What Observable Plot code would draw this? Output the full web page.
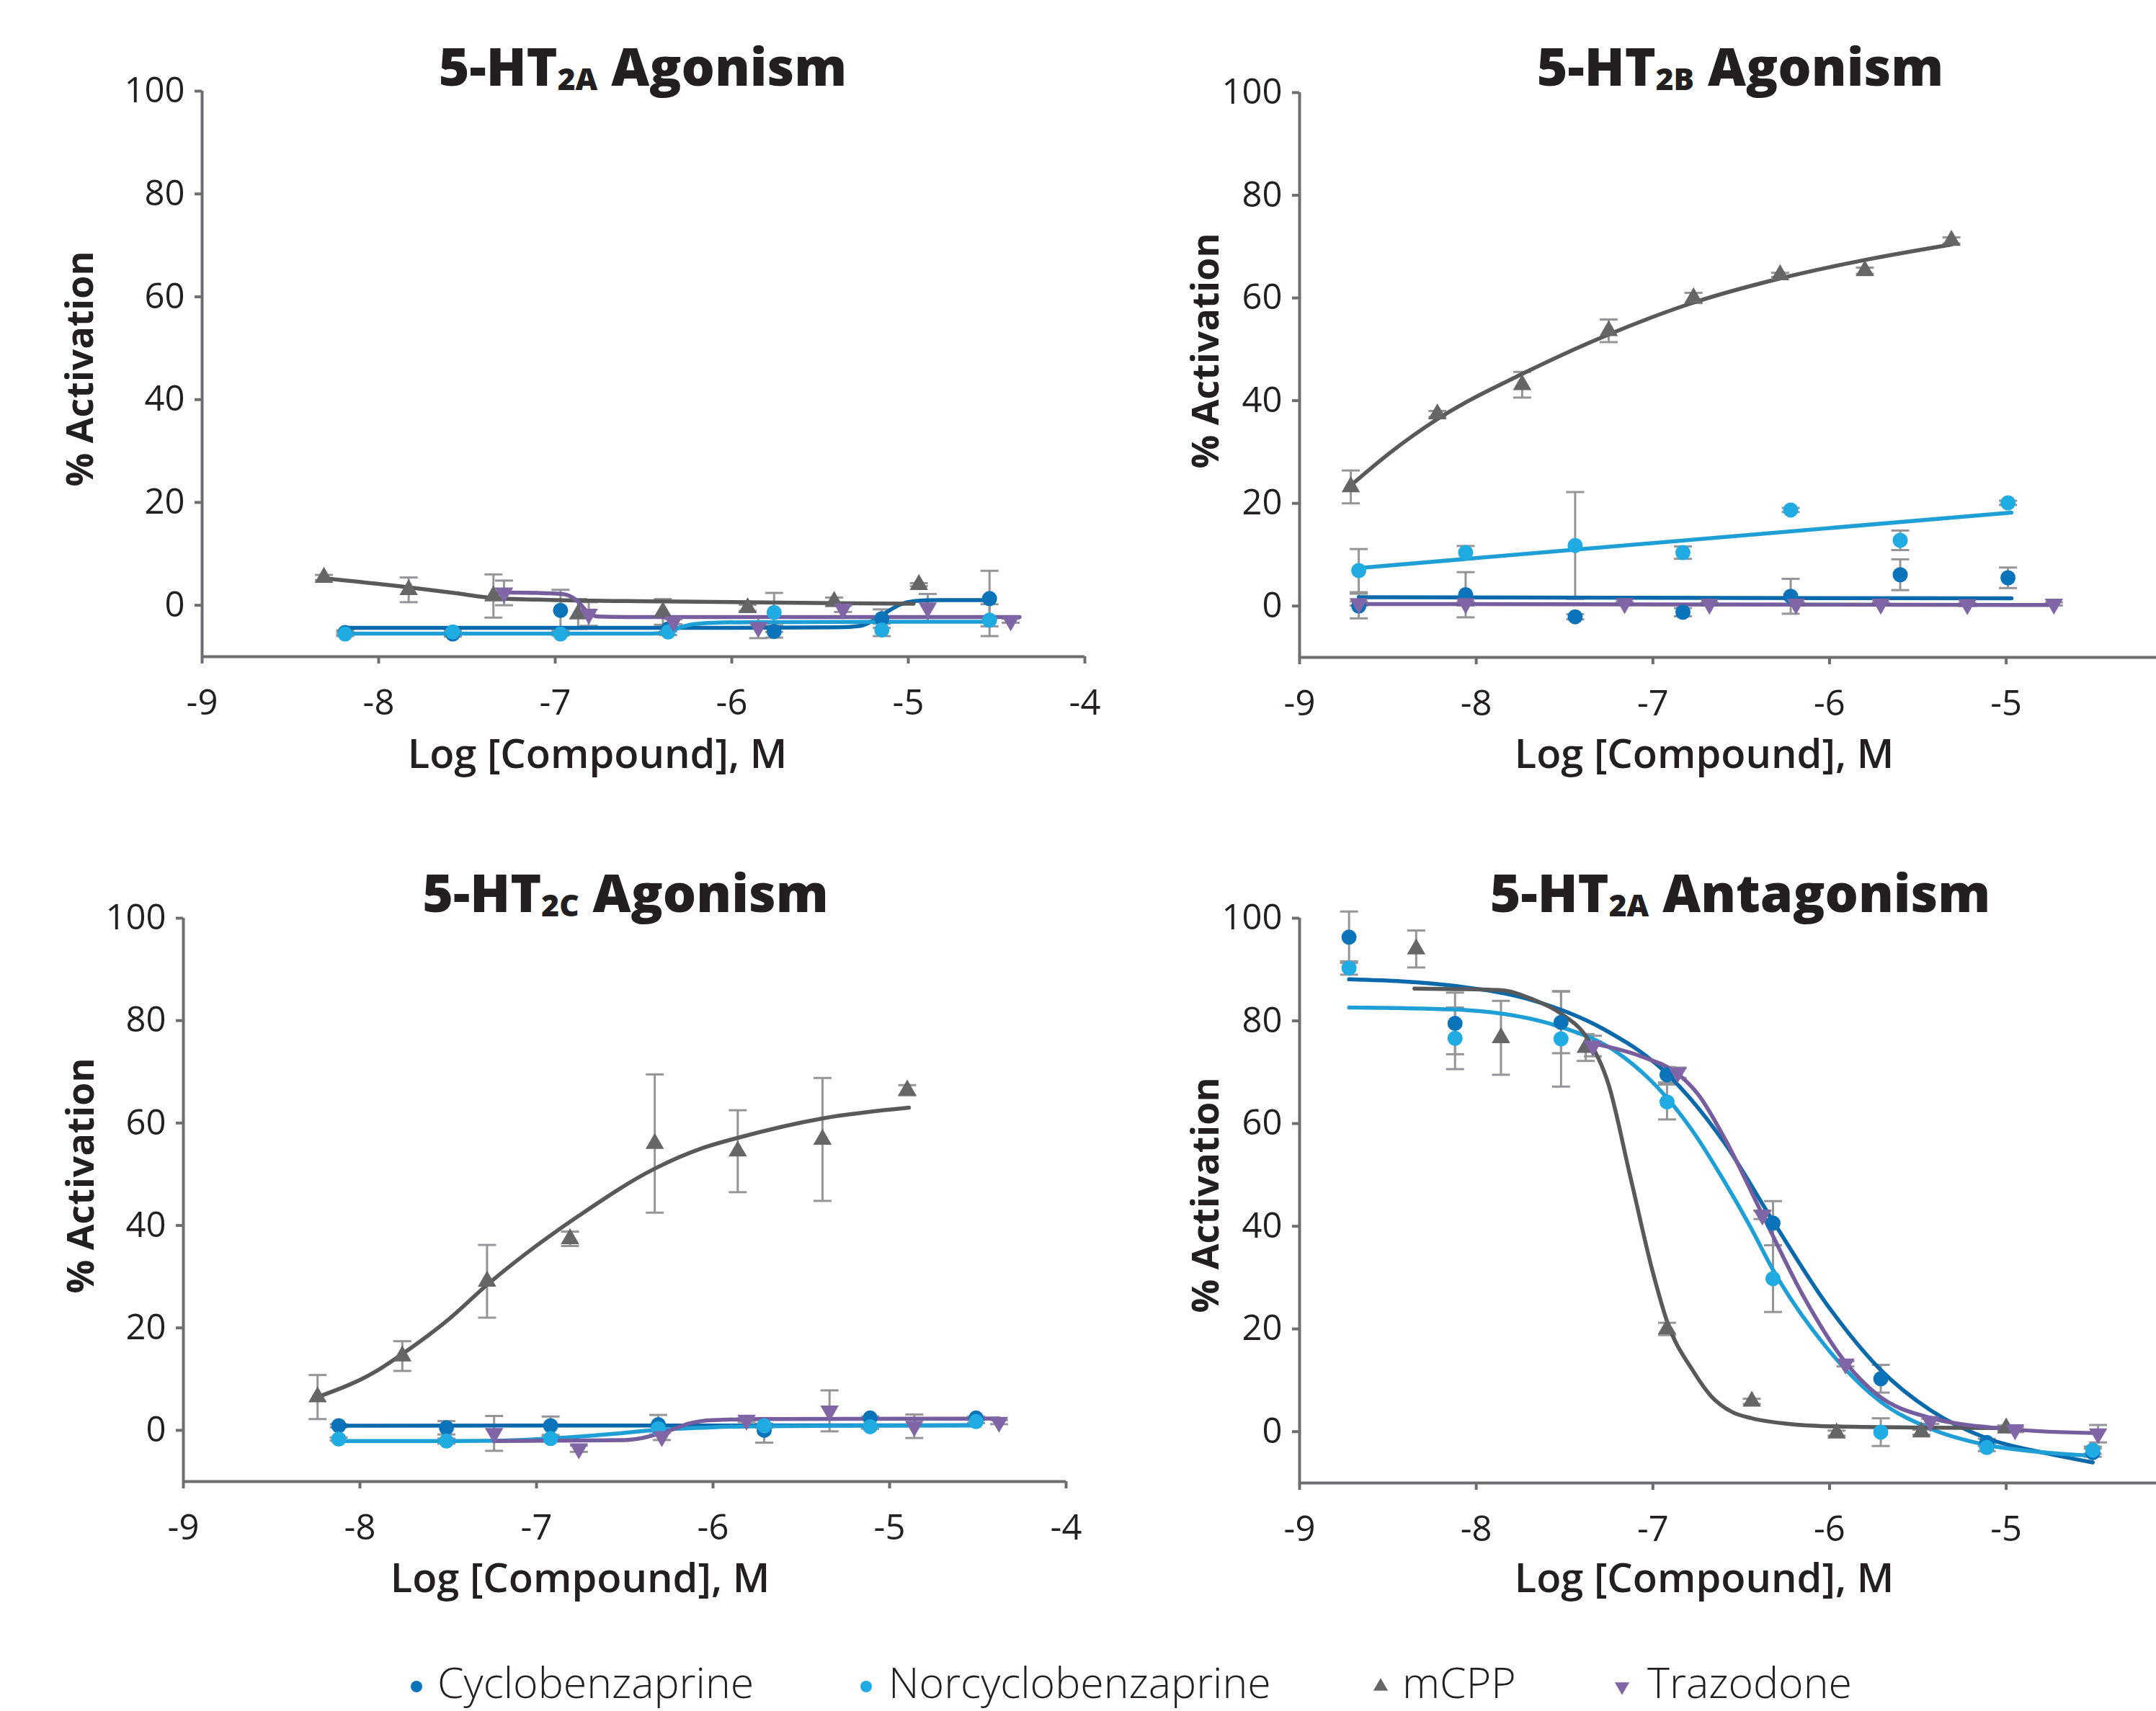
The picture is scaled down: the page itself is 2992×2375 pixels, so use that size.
<!DOCTYPE html>
<html>
<head>
<meta charset="utf-8">
<script src="https://cdn.jsdelivr.net/npm/d3@7"></script>
<script src="https://cdn.jsdelivr.net/npm/@observablehq/plot@0.6"></script>
<style>
  html, body { margin: 0; padding: 0; background: #fff; }
  #root { position: relative; width: 2992px; height: 2375px; overflow: hidden; background: #fff;
          font-family: "Open Sans", "Noto Sans", sans-serif; color: #231f20; }
  .panel { position: absolute; }
  .panel svg { display: block; max-width: none; background: transparent; overflow: visible; }
  .title { position: absolute; font-weight: 800; font-size: 73px; line-height: 1; white-space: nowrap;
           transform: translateX(-50%); }
  .title .sub { font-size: 0.58em; position: relative; top: 0.14em; }
  .ylab { position: absolute; font-weight: 700; font-size: 52px; line-height: 1; white-space: nowrap;
          transform: translate(-50%, -50%) rotate(-90deg); }
  .xlab { position: absolute; font-weight: 600; font-size: 56px; line-height: 0.8; white-space: nowrap;
          transform: translateX(-50%); }
  .legtext { position: absolute; font-weight: 300; font-size: 59px; line-height: 0.8; white-space: nowrap; }
  .legmark { position: absolute; }
</style>
</head>
<body>
<div id="root"></div>
<script>
// ---------------- data ----------------
const compounds = ["Cyclobenzaprine", "Norcyclobenzaprine", "mCPP", "Trazodone"];
const yTicks = [0, 20, 40, 60, 80, 100];
const xTicksFull = [-9, -8, -7, -6, -5, -4];
const xTicksCut = [-9, -8, -7, -6, -5];

// 5-HT2A agonism: [log M, % activation, error]
const a2aCyc = [[-8.19,-5.3,0.4],[-7.58,-5.6,0.5],[-6.97,-1.0,4.0],[-6.36,-4.6,0.5],[-5.76,-5.1,1.2],[-5.15,-2.6,1.8],[-4.54,1.3,5.4]];
const a2aNor = [[-8.19,-5.6,0.4],[-7.58,-5.2,0.5],[-6.97,-5.6,0.3],[-6.36,-5.2,0.6],[-5.76,-1.4,3.8],[-5.15,-4.8,1.2],[-4.54,-2.9,3.1]];
const a2aMcpp = [[-8.31,5.4,0.5],[-7.83,3.0,2.4],[-7.35,1.8,4.2],[-6.87,-1.7,2.9],[-6.39,-1.3,2.5],[-5.91,-0.5,0.6],[-5.42,0.7,0.8],[-4.94,4.0,0.3]];
const a2aTrz = [[-7.29,2.4,2.4],[-6.81,-1.7,2.3],[-6.33,-3.2,0.5],[-5.85,-4.3,2.1],[-5.37,-0.7,0.6],[-4.89,-0.5,2.7],[-4.42,-3.0,0.4]];
const a2aCycFit = [[-8.19,-4.4],[-7.0,-4.4],[-6.0,-4.4],[-5.4,-4.3],[-5.27,-4.0],[-5.2,-3.0],[-5.12,-1.3],[-5.05,0.1],[-4.97,0.8],[-4.85,1.0],[-4.54,1.0]];
const a2aNorFit = [[-8.19,-5.5],[-7.0,-5.5],[-6.45,-5.5],[-6.36,-5.2],[-6.3,-4.4],[-6.22,-3.7],[-6.1,-3.4],[-5.9,-3.3],[-4.54,-3.2]];
const a2aMcppFit = [[-8.33,5.3],[-7.83,3.5],[-7.55,2.3],[-7.35,1.4],[-7.1,1.1],[-6.39,0.75],[-5.42,0.4],[-4.97,0.3]];
const a2aTrzFit = [[-7.32,2.5],[-7.1,2.4],[-6.96,2.2],[-6.88,1.0],[-6.82,-1.2],[-6.76,-2.2],[-6.6,-2.3],[-4.37,-2.3]];

// 5-HT2B agonism
const b2bCyc = [[-8.665,0.0,2.4],[-8.06,2.2,4.4],[-7.44,-2.1,0.5],[-6.83,-1.2,0.8],[-6.22,1.9,3.4],[-5.60,6.1,3.0],[-4.99,5.5,2.0]];
const b2bNor = [[-8.665,6.9,4.2],[-8.06,10.4,1.3],[-7.44,11.8,10.4],[-6.83,10.4,1.2],[-6.22,18.7,0.4],[-5.60,12.8,1.9],[-4.99,20.1,0.4]];
const b2bMcpp = [[-8.71,23.2,3.2],[-8.22,37.4,0.6],[-7.74,43.1,2.5],[-7.25,53.6,2.2],[-6.77,60.0,1.0],[-6.28,64.5,0.4],[-5.80,65.3,0.6],[-5.31,71.2,0.6]];
const b2bTrz = [[-8.665,0.5,0.4],[-8.06,0.5,0.4],[-7.16,0.5,0.3],[-6.68,0.4,0.3],[-6.19,0.4,0.3],[-5.71,0.4,0.3],[-5.22,0.3,0.3],[-4.73,0.4,0.3]];
const b2bCycFit = [[-8.665,1.7],[-4.97,1.5]];
const b2bNorFit = [[-8.665,7.4],[-4.97,18.2]];
const b2bMcppFit = [[-8.71,23.5],[-8.49,29.8],[-8.22,36.4],[-7.74,45.2],[-7.25,52.9],[-6.77,59.1],[-6.28,63.8],[-5.8,67.4],[-5.31,70.4]];
const b2bTrzFit = [[-8.665,0.4],[-4.73,0.2]];

// 5-HT2C agonism
const c2cCyc = [[-8.12,0.9,0.3],[-7.51,0.5,1.3],[-6.92,0.9,1.8],[-6.31,1.1,1.9],[-5.71,0.0,2.4],[-5.11,2.4,0.3],[-4.51,2.4,0.3]];
const c2cNor = [[-8.12,-1.7,0.3],[-7.51,-2.1,0.5],[-6.92,-1.6,0.5],[-6.31,0.3,0.5],[-5.71,0.9,0.4],[-5.11,0.7,0.4],[-4.51,1.7,0.3]];
const c2cMcpp = [[-8.24,6.5,4.3],[-7.76,14.5,2.9],[-7.28,29.1,7.1],[-6.81,37.4,1.4],[-6.33,56.0,13.5],[-5.86,54.5,8.0],[-5.38,56.8,12.0],[-4.90,66.4,1.0]];
const c2cTrz = [[-7.24,-0.6,3.4],[-6.76,-3.6,0.6],[-6.29,-1.2,0.7],[-5.81,2.0,0.4],[-5.34,3.8,4.0],[-4.86,0.8,2.3],[-4.38,1.6,0.4]];
const c2cCycFit = [[-8.12,0.9],[-6.0,0.95],[-4.51,1.0]];
const c2cNorFit = [[-8.12,-2.1],[-7.51,-2.1],[-7.2,-2.0],[-6.92,-1.6],[-6.6,-0.8],[-6.31,0.1],[-6.0,0.6],[-5.71,0.8],[-5.11,0.9],[-4.51,0.95]];
const c2cMcppFit = [[-8.24,6.5],[-7.9,11.7],[-7.76,14.9],[-7.5,21.6],[-7.28,28.4],[-7.06,34.5],[-6.76,41.9],[-6.33,51.1],[-6.06,55.1],[-5.85,57.2],[-5.38,60.9],[-4.89,63.0]];
const c2cTrzFit = [[-7.24,-2.1],[-6.9,-2.0],[-6.5,-1.9],[-6.4,-1.5],[-6.3,-0.6],[-6.22,0.3],[-6.14,1.3],[-6.0,2.0],[-5.7,2.2],[-4.38,2.3]];

// 5-HT2A antagonism
const antCyc = [[-8.72,96.3,5.0],[-8.12,79.5,6.0],[-7.52,79.7,6.0],[-6.92,69.5,1.5],[-6.32,40.6,4.3],[-5.71,10.3,2.7],[-5.11,-2.1,0.7],[-4.51,-4.1,0.8]];
const antNor = [[-8.72,90.3,1.3],[-8.12,76.6,6.0],[-7.52,76.5,9.3],[-6.92,64.2,3.4],[-6.32,29.8,6.5],[-5.71,-0.1,2.7],[-5.11,-3.1,0.7],[-4.51,-3.6,0.7]];
const antMcpp = [[-8.34,94.0,3.6],[-7.86,76.7,7.2],[-7.38,74.8,2.6],[-6.92,20.0,1.2],[-6.44,5.9,0.5],[-5.96,-0.3,0.5],[-5.48,-0.1,0.5],[-5.0,0.7,0.5]];
const antTrz = [[-7.34,75.1,2.0],[-6.86,69.9,1.0],[-6.38,42.2,0.8],[-5.91,13.2,0.5],[-5.43,2.0,0.5],[-4.95,0.4,0.5],[-4.48,-0.4,1.7]];
const antCycFit = [[-8.72,88.1],[-8.12,86.8],[-7.68,84.0],[-7.29,78.6],[-6.92,69.7],[-6.6,56.5],[-6.32,41.0],[-6.02,25.0],[-5.71,12.0],[-5.43,4.2],[-5.11,-1.3],[-4.76,-4.3],[-4.51,-6.0]];
const antNorFit = [[-8.72,82.6],[-8.12,82.2],[-7.52,78.8],[-7.2,73.8],[-6.92,65.0],[-6.77,58.3],[-6.6,49.0],[-6.45,40.0],[-6.32,31.5],[-6.02,16.5],[-5.71,5.8],[-5.43,0.6],[-5.11,-2.6],[-4.8,-4.0],[-4.51,-4.7]];
const antMcppFit = [[-8.35,86.3],[-7.87,86.0],[-7.68,84.2],[-7.52,81.4],[-7.37,76.5],[-7.25,67.5],[-7.13,50.0],[-7.0,31.0],[-6.92,21.5],[-6.77,11.7],[-6.67,6.9],[-6.55,3.8],[-6.44,2.6],[-6.2,1.4],[-5.96,1.0],[-5.5,0.8],[-5.0,0.7]];
const antTrzFit = [[-7.34,75.6],[-7.06,73.0],[-6.86,69.7],[-6.74,65.5],[-6.6,57.5],[-6.38,42.3],[-6.15,26.5],[-5.91,13.5],[-5.73,7.2],[-5.43,2.7],[-4.95,0.4],[-4.48,-0.3]];

// ---------------- styles ----------------
const AXIS = "#6d6e71", TEXT = "#231f20", ERR = "#939598";
const dotColor = {Cyclobenzaprine: "#0b73b9", Norcyclobenzaprine: "#20abe2", mCPP: "#656668", Trazodone: "#8066a6"};
const lineColor = {Cyclobenzaprine: "#0a69aa", Norcyclobenzaprine: "#1e9fd5", mCPP: "#58595b", Trazodone: "#765d9d"};

const sqrt3 = Math.sqrt(3);
const triangleDown = {
  draw(context, size) {
    const y = -Math.sqrt(size / (sqrt3 * 3));
    context.moveTo(0, -2 * y);
    context.lineTo(-sqrt3 * y, y);
    context.lineTo(sqrt3 * y, y);
    context.closePath();
  }
};
const capSymbol = { draw(context) { context.moveTo(-12.5, 0); context.lineTo(12.5, 0); } };
const symbolOf = {Cyclobenzaprine: "circle", Norcyclobenzaprine: "circle", mCPP: "triangle", Trazodone: triangleDown};
const rOf = {Cyclobenzaprine: 10.5, Norcyclobenzaprine: 10.5, mCPP: 9.5, Trazodone: 9.5};

const panels = [
  {left: 0, top: 0, width: 1560, height: 1100, mL: 280, mR: 55, mT: 126, mB: 189, xMax: -4, xTicks: xTicksFull,
   pts: [a2aCyc, a2aNor, a2aMcpp, a2aTrz], fits: [a2aCycFit, a2aNorFit, a2aMcppFit, a2aTrzFit],
   title: ["5-HT", "2A", " Agonism"], tx: 892, tb: 119, yl: [109, 512], xl: [829, 1066]},
  {left: 1560, top: 0, width: 1432, height: 1100, mL: 243, mR: 0, mT: 128, mB: 188, xMax: -4.15, xTicks: xTicksCut,
   pts: [b2bCyc, b2bNor, b2bMcpp, b2bTrz], fits: [b2bCycFit, b2bNorFit, b2bMcppFit, b2bTrzFit],
   title: ["5-HT", "2B", " Agonism"], tx: 2415, tb: 119, yl: [1671, 487], xl: [2365, 1066]},
  {left: 0, top: 1150, width: 1560, height: 1000, mL: 254, mR: 81, mT: 124, mB: 94, xMax: -4, xTicks: xTicksFull,
   pts: [c2cCyc, c2cNor, c2cMcpp, c2cTrz], fits: [c2cCycFit, c2cNorFit, c2cMcppFit, c2cTrzFit],
   title: ["5-HT", "2C", " Agonism"], tx: 868, tb: 1266, yl: [110, 1632], xl: [805, 2210]},
  {left: 1560, top: 1150, width: 1432, height: 1000, mL: 243, mR: 0, mT: 124, mB: 92, xMax: -4.15, xTicks: xTicksCut,
   pts: [antCyc, antNor, antMcpp, antTrz], fits: [antCycFit, antNorFit, antMcppFit, antTrzFit],
   title: ["5-HT", "2A", " Antagonism"], tx: 2415, tb: 1266, yl: [1671, 1659], xl: [2365, 2210]}
];

const root = document.getElementById("root");

function addDiv(cls, html, css) {
  const d = document.createElement("div");
  d.className = cls;
  d.innerHTML = html;
  Object.assign(d.style, css);
  root.appendChild(d);
  return d;
}

for (const p of panels) {
  const marks = [
    Plot.ruleX([-9], {y1: -10, y2: 100, stroke: AXIS, strokeWidth: 4}),
    Plot.ruleY([-10], {x1: -9, x2: p.xMax, stroke: AXIS, strokeWidth: 4}),
    Plot.axisY({ticks: yTicks, tickSize: 10, tickPadding: 14, stroke: AXIS, strokeWidth: 4, fill: TEXT,
                fontSize: 49, tickFormat: d => String(d), label: null}),
    Plot.axisX({ticks: p.xTicks, tickSize: 10, tickPadding: 36, stroke: AXIS, strokeWidth: 4, fill: TEXT,
                fontSize: 49, tickFormat: d => String(d), label: null})
  ];
  // error bars
  compounds.forEach((c, i) => {
    const pts = p.pts[i];
    marks.push(Plot.ruleX(pts, {x: d => d[0], y1: d => d[1] - d[2], y2: d => d[1] + d[2], stroke: ERR, strokeWidth: 3}));
    marks.push(Plot.dot(pts, {x: d => d[0], y: d => d[1] + d[2], symbol: capSymbol, stroke: ERR, strokeWidth: 3, fill: "none", r: 5}));
    marks.push(Plot.dot(pts, {x: d => d[0], y: d => d[1] - d[2], symbol: capSymbol, stroke: ERR, strokeWidth: 3, fill: "none", r: 5}));
  });
  // fitted curves
  compounds.forEach((c, i) => {
    marks.push(Plot.line(p.fits[i], {x: d => d[0], y: d => d[1], stroke: lineColor[c], strokeWidth: 5.5, curve: "monotone-x"}));
  });
  // markers
  compounds.forEach((c, i) => {
    marks.push(Plot.dot(p.pts[i], {x: d => d[0], y: d => d[1], fill: dotColor[c], r: rOf[c], symbol: symbolOf[c]}));
  });

  const svg = Plot.plot({
    width: p.width, height: p.height,
    marginLeft: p.mL, marginRight: p.mR, marginTop: p.mT, marginBottom: p.mB,
    x: {type: "linear", domain: [-9, p.xMax], label: null},
    y: {type: "linear", domain: [-10, 100], label: null},
    style: {fontFamily: "'Open Sans', 'Noto Sans', sans-serif", fontSize: "49px", background: "transparent", overflow: "visible", maxWidth: "none"},
    marks
  });
  const holder = document.createElement("div");
  holder.className = "panel";
  Object.assign(holder.style, {left: p.left + "px", top: p.top + "px", width: p.width + "px", height: p.height + "px"});
  holder.appendChild(svg);
  root.appendChild(holder);

  addDiv("title", `${p.title[0]}<span class="sub">${p.title[1]}</span>${p.title[2]}`,
         {left: p.tx + "px", top: (p.tb - 0.888 * 73) + "px"});
  addDiv("ylab", "% Activation", {left: p.yl[0] + "px", top: p.yl[1] + "px"});
  // line-height 0.8: baseline sits 0.788em below the box top
  addDiv("xlab", "Log [Compound], M", {left: p.xl[0] + "px", top: (p.xl[1] - 0.788 * 56) + "px"});
}

// legend
const legendMarkX = [578, 1202, 1916, 2251];
const legendTextX = [607, 1233, 1946, 2286];
const legendCy = 2341, legendBaseline = 2357;
compounds.forEach((c, i) => {
  const s = 30;
  const ns = "http://www.w3.org/2000/svg";
  const svg = document.createElementNS(ns, "svg");
  svg.setAttribute("width", s); svg.setAttribute("height", s);
  svg.setAttribute("class", "legmark");
  svg.style.position = "absolute";
  svg.style.left = (legendMarkX[i] - s / 2) + "px";
  svg.style.top = (legendCy - s / 2) + "px";
  const path = document.createElementNS(ns, "path");
  const sym = c === "mCPP" ? d3.symbolTriangle : c === "Trazodone" ? triangleDown : d3.symbolCircle;
  const r = c === "mCPP" || c === "Trazodone" ? 7.5 : 8;
  path.setAttribute("d", d3.symbol(sym, Math.PI * r * r)());
  path.setAttribute("transform", `translate(${s / 2},${s / 2})`);
  path.setAttribute("fill", dotColor[c]);
  svg.appendChild(path);
  root.appendChild(svg);
  addDiv("legtext", c, {left: legendTextX[i] + "px", top: (legendBaseline - 0.788 * 59) + "px"});
});
</script>
</body>
</html>
